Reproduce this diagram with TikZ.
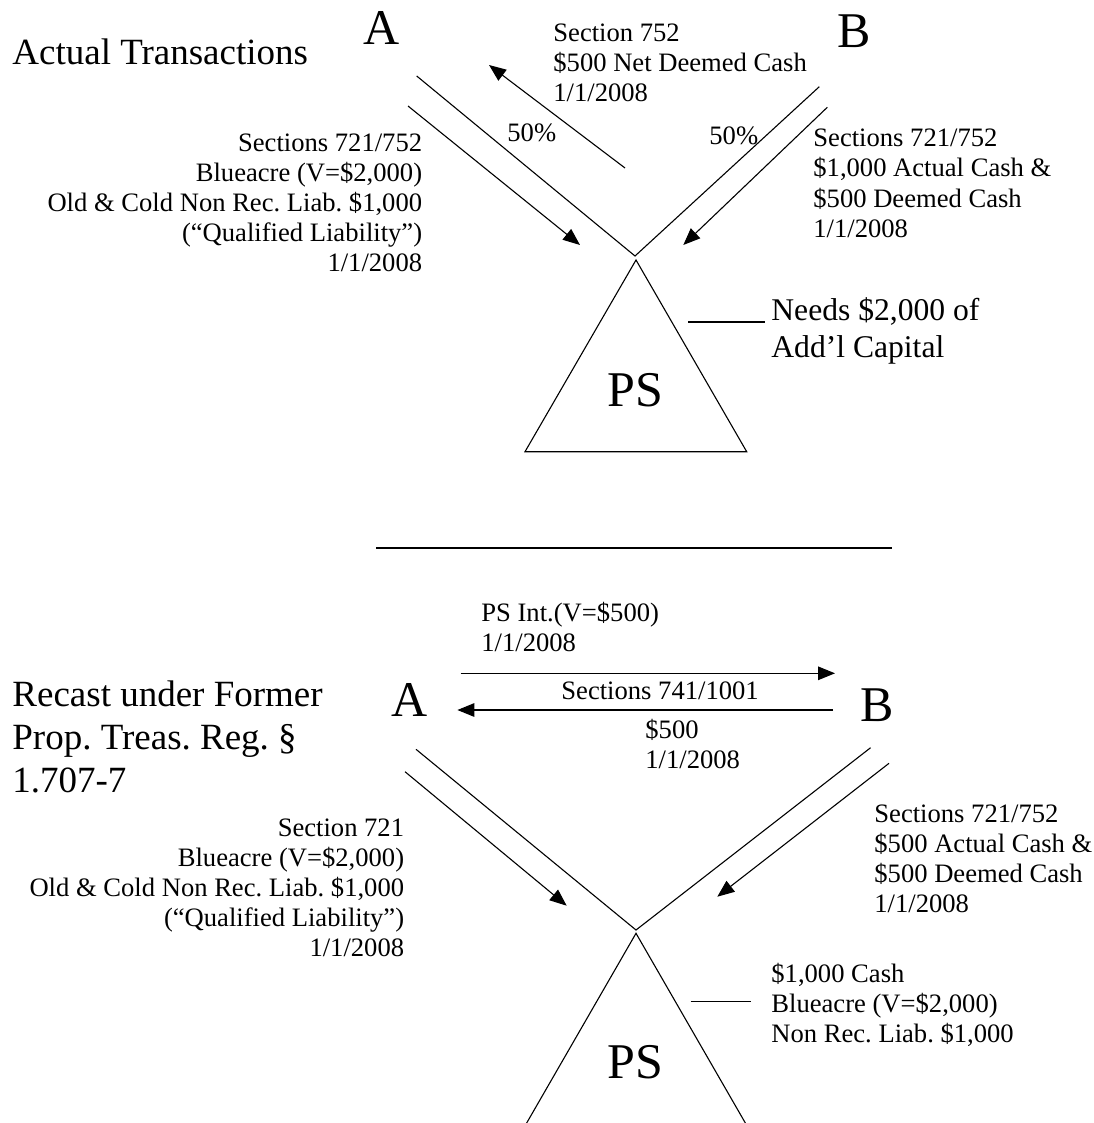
\documentclass[tikz,border=0pt]{standalone}
\usepackage{fontspec}
\setmainfont{Liberation Serif}
\usetikzlibrary{arrows.meta}
\frenchspacing
\begin{document}
\begin{tikzpicture}[x=0.5pt,y=-0.5pt,
  thin line/.style={line width=0.55pt},
  flow/.style={thin line, -{Triangle[length=8.5pt,width=6.8pt]}},
  note/.style={inner sep=0pt, font=\fontsize{13.3}{15}\selectfont},
  bignote/.style={inner sep=0pt, font=\fontsize{15.8}{18.5}\selectfont},
  heading/.style={inner sep=0pt, font=\fontsize{18.5}{21.5}\selectfont},
  party/.style={inner sep=0pt, font=\fontsize{25}{30}\selectfont}]
\useasboundingbox (0,0) rectangle (1093,1123);
% multi-line notes are anchored at the baseline of their last line

% ---------------- Actual transactions ----------------
\node[heading, anchor=base west] (title1) at (12,65) {Actual Transactions};
\node[party, anchor=base] (A1) at (381.5,45) {A};
\node[party, anchor=base] (B1) at (854,48) {B};

\node[note, anchor=base west, align=left] (sec752) at (553,101.7)
  {Section 752\\\$500 Net Deemed Cash\\1/1/2008};
\node[note, anchor=base west] (pctA) at (507,142) {50\%};
\node[note, anchor=base west] (pctB) at (709,145) {50\%};
\node[note, anchor=base east, align=right] (contribA1) at (422.5,271.5)
  {Sections 721/752\\Blueacre (V=\$2,000)\\Old \& Cold Non Rec. Liab. \$1,000\\(“Qualified Liability”)\\1/1/2008};
\node[note, anchor=base west, align=left] (contribB1) at (813,237)
  {Sections 721/752\\\$1,000 Actual Cash \&\\\$500 Deemed Cash\\1/1/2008};

% ownership lines and flows
\coordinate (v1) at (635,256);
\coordinate (a1top) at (416.7,76);
\coordinate (b1top) at (819.3,86.7);
\draw[thin line] (a1top) -- (v1) -- (b1top);
\coordinate (fa1s) at (408,106);
\coordinate (fa1e) at (580,245);
\draw[flow] (fa1s) -- (fa1e);
\coordinate (fb1s) at (827.3,107.3);
\coordinate (fb1e) at (683.3,245);
\draw[flow] (fb1s) -- (fb1e);
\coordinate (d1s) at (625,168);
\coordinate (d1e) at (489,65);
\draw[flow] (d1s) -- (d1e);

% partnership
\coordinate (ps1top) at (636,260);
\coordinate (ps1l) at (525,451.7);
\coordinate (ps1r) at (746.7,451.7);
\draw[thin line] (ps1top) -- (ps1l) -- (ps1r) -- cycle;
\node[party, anchor=base] (PS1) at (635,406) {PS};
\node[bignote, anchor=base west, align=left] (needs) at (771,357)
  {Needs \$2,000 of\\Add’l Capital};
\coordinate (n1s) at (688,322);
\coordinate (n1e) at (765,322);
\draw[thin line] (n1s) -- (n1e);

% separator
\coordinate (sepL) at (376,548);
\coordinate (sepR) at (892,548);
\draw[thin line] (sepL) -- (sepR);

% ---------------- Recast ----------------
\node[heading, anchor=base west, align=left] (title2) at (12,792)
  {Recast under Former\\Prop. Treas. Reg. §\\1.707-7};
\node[party, anchor=base] (A2) at (410,716) {A};
\node[party, anchor=base] (B2) at (877,721) {B};

\node[note, anchor=base west, align=left] (psint) at (481,651)
  {PS Int.(V=\$500)\\1/1/2008};
\node[note, anchor=base west] (sec741) at (561,699) {Sections 741/1001};
\node[note, anchor=base west, align=left] (cash500) at (645,768)
  {\$500\\1/1/2008};
\coordinate (h1s) at (460.5,673.3);
\coordinate (h1e) at (835,673.3);
\draw[flow] (h1s) -- (h1e);
\coordinate (h2s) at (833,710);
\coordinate (h2e) at (457.4,710);
\draw[flow] (h2s) -- (h2e);

\node[note, anchor=base east, align=right] (contribA2) at (404.5,956)
  {Section 721\\Blueacre (V=\$2,000)\\Old \& Cold Non Rec. Liab. \$1,000\\(“Qualified Liability”)\\1/1/2008};
\node[note, anchor=base west, align=left] (contribB2) at (874,912)
  {Sections 721/752\\\$500 Actual Cash \&\\\$500 Deemed Cash\\1/1/2008};

\coordinate (v2) at (636,930);
\coordinate (a2top) at (416,749.3);
\coordinate (b2top) at (870.6,747.7);
\draw[thin line] (a2top) -- (v2) -- (b2top);
\coordinate (fa2s) at (405,771.7);
\coordinate (fa2e) at (566.7,905.7);
\draw[flow] (fa2s) -- (fa2e);
\coordinate (fb2s) at (889,763.3);
\coordinate (fb2e) at (717.3,896.7);
\draw[flow] (fb2s) -- (fb2e);

\coordinate (ps2top) at (636,933.3);
\coordinate (ps2l) at (525.5,1125);
\coordinate (ps2r) at (746.5,1125);
\draw[thin line] (ps2l) -- (ps2top) -- (ps2r);
\node[party, anchor=base] (PS2) at (635.5,1078) {PS};
\node[note, anchor=base west, align=left] (assets) at (771,1042)
  {\$1,000 Cash\\Blueacre (V=\$2,000)\\Non Rec. Liab. \$1,000};
\coordinate (n2s) at (690.7,1001.7);
\coordinate (n2e) at (750.7,1001.7);
\draw[thin line] (n2s) -- (n2e);
\end{tikzpicture}
\end{document}
